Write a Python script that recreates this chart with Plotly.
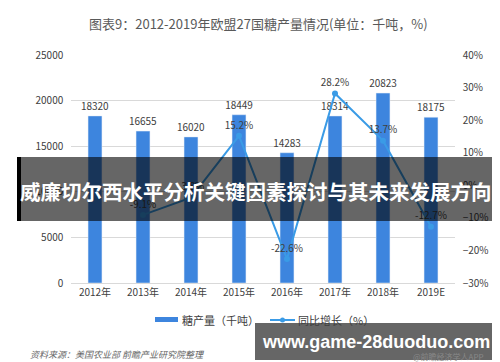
import plotly.graph_objects as go

years = ["2012年", "2013年", "2014年", "2015年", "2016年", "2017年", "2018年", "2019E"]
production = [18320, 16655, 16020, 18449, 14283, 18314, 20823, 18175]
growth = [None, -0.091, -0.038, 0.152, -0.226, 0.282, 0.137, -0.127]
growth_labels = ["", "-9.1%", "-3.8%", "15.2%", "-22.6%", "28.2%", "13.7%", "-12.7%"]

FONT = "Noto Sans CJK SC, Noto Sans, sans-serif"
BAR_C = "#3d85de"
LINE_C = "#3a9be6"

W, H = 500, 362
L, R, T, B = 63, 53, 47, 87
PW, PH = W - L - R, H - T - B


def px(x):
    return (x - L) / PW


def py(y):
    return (H - B - y) / PH


fig = go.Figure()
fig.add_trace(go.Bar(
    x=years, y=production, marker_color=BAR_C, name="糖产量（千吨）",
    text=[str(v) for v in production], textposition="outside", constraintext="none",
    textfont=dict(size=10, color="#404040", family=FONT), cliponaxis=False,
))
fig.add_trace(go.Scatter(
    x=years, y=growth, yaxis="y2", mode="lines+markers+text", name="同比增长（%）",
    line=dict(color=LINE_C, width=2), marker=dict(size=6, color=LINE_C),
    text=growth_labels, textposition="top center",
    textfont=dict(size=10, color="#404040", family=FONT), cliponaxis=False,
))

shapes = []
annotations = []

# title
annotations.append(dict(text="图表9：2012-2019年欧盟27国糖产量情况(单位：千吨，%)",
                        x=px(250), y=py(16), xref="paper", yref="paper", showarrow=False,
                        xanchor="center", yanchor="middle",
                        font=dict(size=13, color="#595959", family=FONT)))

# manual legend
shapes.append(dict(type="rect", xref="paper", yref="paper", x0=px(147), x1=px(170),
                   y0=py(309), y1=py(314), fillcolor=BAR_C, line_width=0))
annotations.append(dict(text="糖产量（千吨）", x=px(172), y=py(312), xref="paper", yref="paper",
                        xanchor="left", yanchor="middle", showarrow=False,
                        font=dict(size=11, color="#404040", family=FONT)))
shapes.append(dict(type="line", xref="paper", yref="paper", x0=px(262), x1=px(287),
                   y0=py(312), y1=py(312), line=dict(color=LINE_C, width=2)))
shapes.append(dict(type="circle", xref="paper", yref="paper", x0=px(272), x1=px(277),
                   y0=py(314.5), y1=py(309.5), fillcolor=LINE_C, line_width=0))
annotations.append(dict(text="同比增长（%）", x=px(288), y=py(312), xref="paper", yref="paper",
                        xanchor="left", yanchor="middle", showarrow=False,
                        font=dict(size=11, color="#404040", family=FONT)))

# source
annotations.append(dict(text="<i>资料来源：美国农业部 前瞻产业研究院整理</i>", x=px(20), y=py(346),
                        xref="paper", yref="paper", xanchor="left", yanchor="middle", showarrow=False,
                        font=dict(size=9, color="#666666", family=FONT)))
annotations.append(dict(text="@前瞻经济学人APP", x=px(478), y=py(348), xref="paper", yref="paper",
                        xanchor="right", yanchor="middle", showarrow=False,
                        font=dict(size=8, color="#888888", family=FONT)))

# overlay band (middle)
shapes.append(dict(type="rect", xref="paper", yref="paper", x0=px(13), x1=px(484),
                   y0=py(213), y1=py(149), fillcolor="rgba(0,0,0,0.6)", line_width=0, layer="above"))
shapes.append(dict(type="rect", xref="paper", yref="paper", x0=px(9), x1=px(13),
                   y0=py(213), y1=py(149), fillcolor="#000000", line_width=0, layer="above"))
shapes.append(dict(type="rect", xref="paper", yref="paper", x0=px(484), x1=px(490),
                   y0=py(213), y1=py(149), fillcolor="#000000", line_width=0, layer="above"))
annotations.append(dict(text="<b>威廉切尔西水平分析关键因素探讨与其未来发展方向</b>", x=px(248), y=py(183),
                        xref="paper", yref="paper", showarrow=False, xanchor="center", yanchor="middle",
                        font=dict(size=20.5, color="#ffffff", family=FONT)))

# bottom band
shapes.append(dict(type="rect", xref="paper", yref="paper", x0=px(247), x1=px(485),
                   y0=py(352), y1=py(315), fillcolor="rgba(0,0,0,0.6)", line_width=0, layer="above"))
shapes.append(dict(type="rect", xref="paper", yref="paper", x0=px(485), x1=px(490),
                   y0=py(352), y1=py(315), fillcolor="#000000", line_width=0, layer="above"))
annotations.append(dict(text="<b>www.game-28duoduo.com</b>", x=px(368), y=py(334),
                        xref="paper", yref="paper", showarrow=False, xanchor="center", yanchor="middle",
                        font=dict(size=18, color="#ffffff", family="Liberation Sans, Arial, sans-serif")))

fig.update_layout(
    width=W, height=H, margin=dict(l=L, r=R, t=T, b=B),
    paper_bgcolor="white", plot_bgcolor="white", showlegend=False,
    bargap=0.71, font=dict(family=FONT, size=10, color="#404040"),
    xaxis=dict(showgrid=False, showline=True, linecolor="#d9d9d9", ticks="",
               tickfont=dict(size=10, color="#404040")),
    yaxis=dict(range=[0, 25000], dtick=5000, tickformat="d", showgrid=True, gridcolor="#d9d9d9",
               zeroline=False, showline=False, ticks="", ticksuffix="   ",
               tickfont=dict(size=10, color="#404040")),
    yaxis2=dict(range=[-0.3, 0.4], dtick=0.1, tickformat=".0%", overlaying="y", side="right",
                showgrid=False, zeroline=False, showline=False, ticks="",
                tickprefix="   ", tickfont=dict(size=10, color="#404040")),
    shapes=shapes, annotations=annotations,
)

fig.write_html("out.html")
